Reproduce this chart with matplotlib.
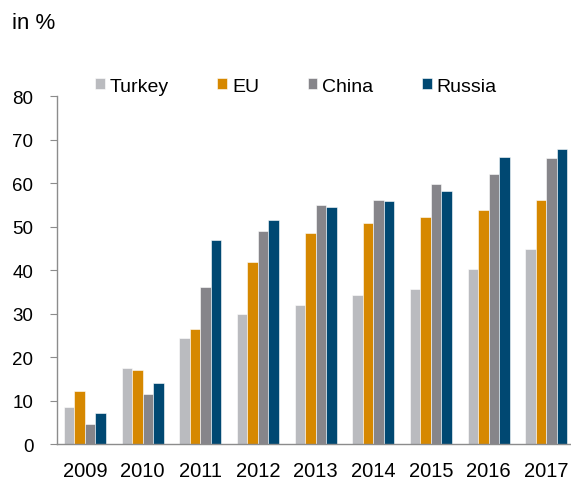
import numpy as np
import matplotlib.pyplot as plt

plt.rcParams['font.family'] = ['Liberation Sans', 'DejaVu Sans']

years = ['2009', '2010', '2011', '2012', '2013', '2014', '2015', '2016', '2017']
turkey = [8.5, 17.4, 24.4, 29.8, 31.9, 34.2, 35.7, 40.3, 44.8]
eu = [12.2, 17.0, 26.4, 41.9, 48.4, 50.8, 52.3, 53.7, 56.0]
china = [4.5, 11.5, 36.0, 49.0, 55.0, 56.1, 59.8, 62.0, 65.8]
russia = [7.2, 14.0, 46.8, 51.4, 54.4, 55.9, 58.2, 66.0, 67.9]

series = [('Turkey', turkey, '#BABBBF'),
          ('EU', eu, '#D68800'),
          ('China', china, '#86858A'),
          ('Russia', russia, '#004872')]

fig = plt.figure(figsize=(5.71, 4.81), dpi=100)
ax = fig.add_axes([0.0998, 0.0748, 0.9002, 0.7235])

x = np.arange(len(years))
w = 0.182
for i, (name, vals, col) in enumerate(series):
    ax.bar(x + (i - 1.5) * w, vals, width=w, color=col, label=name,
           edgecolor='white', linewidth=0.4)

ax.set_xlim(-0.485, 8.43)
ax.set_ylim(0, 80)
ax.set_yticks(range(0, 81, 10))
ax.set_xticks(x)
ax.set_xticklabels(years)

for s in ['top', 'right']:
    ax.spines[s].set_visible(False)
for s in ['left', 'bottom']:
    ax.spines[s].set_color('#8C8C8C')
    ax.spines[s].set_linewidth(1.0)

ax.tick_params(axis='y', length=5, color='#8C8C8C', pad=12, labelsize=13.5)
ax.tick_params(axis='x', length=0, pad=12, labelsize=14.5)

fig.legend(loc='center left', bbox_to_anchor=(95 / 571, 1 - 87 / 481),
           ncol=4, frameon=False, fontsize=14, handlelength=0.5,
           handleheight=0.5, handletextpad=0.25, columnspacing=2.5,
           borderpad=0, borderaxespad=0)

fig.text(12 / 571, 1 - 29 / 481, 'in %', fontsize=16, va='baseline')

fig.savefig('out.png', dpi=100)
